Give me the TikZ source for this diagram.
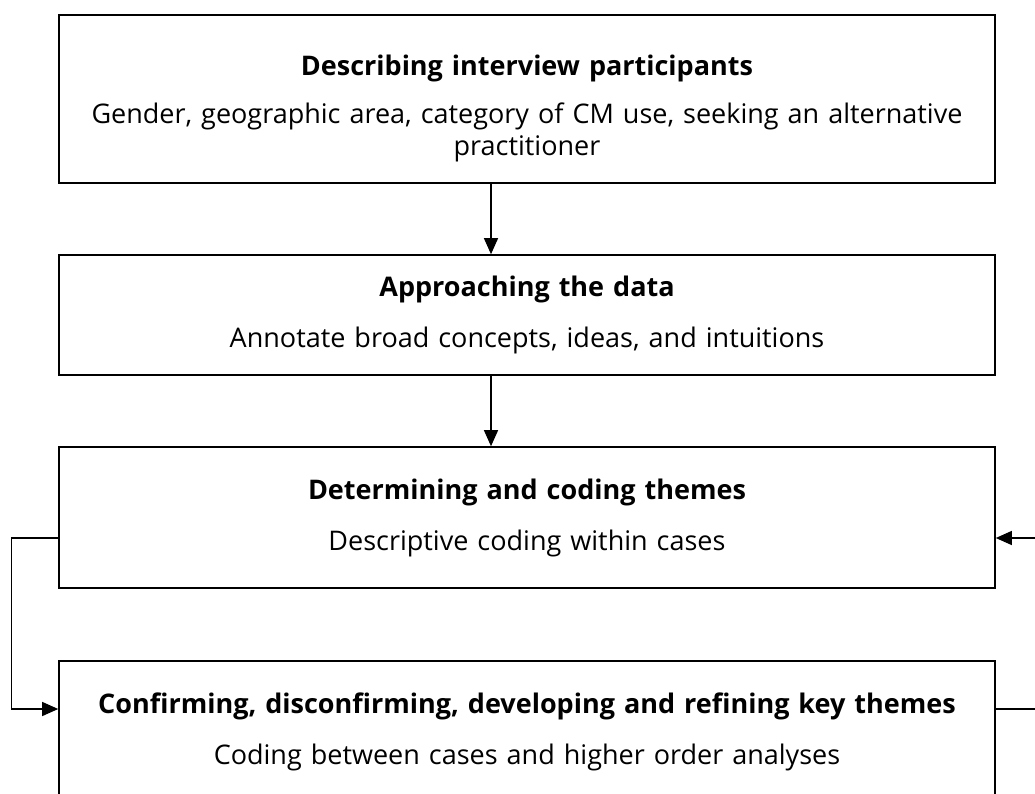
\documentclass[tikz,border=0pt]{standalone}
\usepackage{fontspec}
\setmainfont{Open Sans}
\usetikzlibrary{positioning,arrows.meta}

\tikzset{
  stagebox/.style={draw, line width=1.6pt, minimum width=936pt, text width=920pt,
    align=center, inner sep=0pt, font=\fontsize{27}{32}\selectfont},
  flow/.style={line width=1.3pt, -{Triangle[length=16pt,width=14pt]}}
}

\begin{document}
\begin{tikzpicture}[x=1pt, y=-1pt]
    \useasboundingbox (0,0) rectangle (1035,794);
    \clip (0,0) rectangle (1035,794);

    % Stages, top to bottom
    \node[stagebox, minimum height=168pt] (describe) at (527,99)
        {\rule{0pt}{40pt}\textbf{Describing interview participants}\\[16pt]
         Gender, geographic area, category of CM use, seeking an alternative\\
         practitioner};
    \node[stagebox, minimum height=120pt] (approach) at (527,315)
        {\textbf{Approaching the data}\\[19pt]
         Annotate broad concepts, ideas, and intuitions};
    \node[stagebox, minimum height=141pt] (themes) at (527,517.5)
        {\textbf{Determining and coding themes}\\[19pt]
         Descriptive coding within cases};
    \node[stagebox, minimum height=142pt] (refine) at (527,732)
        {\textbf{Confirming, disconfirming, developing and refining key themes}\\[19pt]
         Coding between cases and higher order analyses};

    % Downward steps
    \draw[flow] ([xshift=-36pt]describe.south) -- ([xshift=-36pt]approach.north);
    \draw[flow] ([xshift=-36pt]approach.south) -- ([xshift=-36pt]themes.north);

    % Loop between coding and refining
    \draw[flow] ([yshift=-20.5pt]themes.west) -- ++(-47,0) |- ([yshift=23pt]refine.west);
    \draw[flow] ([yshift=23pt]refine.east) -- ++(60,0) |- ([yshift=-20.5pt]themes.east);
\end{tikzpicture}
\end{document}
